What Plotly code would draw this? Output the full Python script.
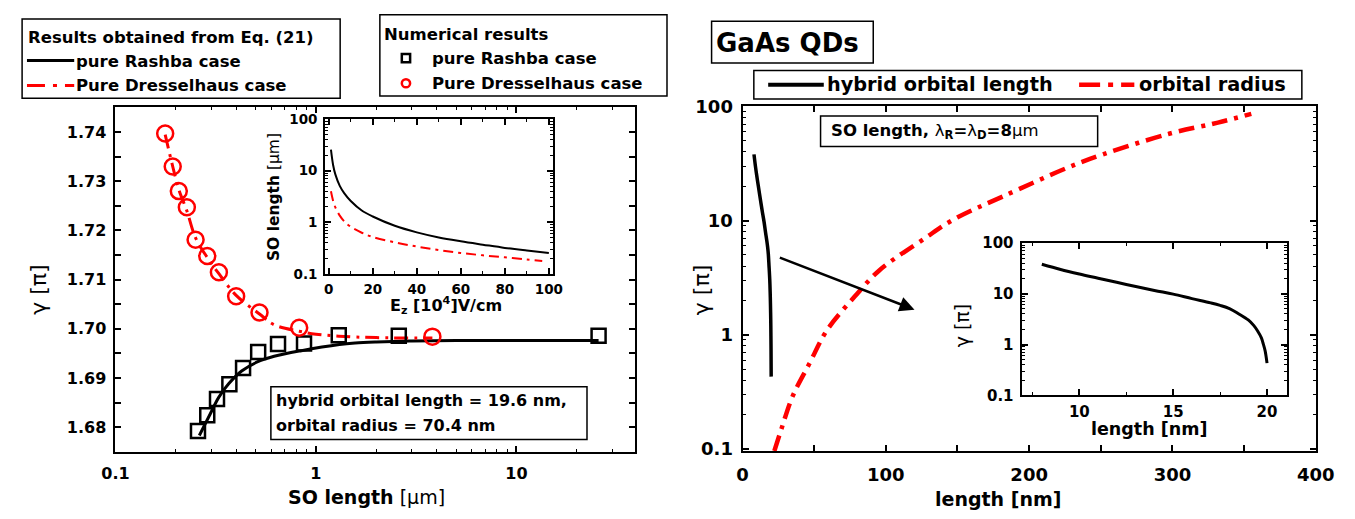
import numpy as np
import plotly.graph_objects as go

W, H = 1355, 519

# ---------------- data ----------------
# left main panel: gamma vs SO length
rashba_eq_x = [0.262, 0.293, 0.328, 0.367, 0.426, 0.513, 0.619, 0.834, 1.31, 1.57, 2.0, 3.0, 5.0, 10.0, 25.7]
rashba_eq_y = [1.6783, 1.6822, 1.6861, 1.6888, 1.6914, 1.6933, 1.6944, 1.6955, 1.6968, 1.6971, 1.6973, 1.6975, 1.6976, 1.6976, 1.6976]
dress_eq_x = [0.177, 0.193, 0.207, 0.227, 0.251, 0.287, 0.328, 0.40, 0.523, 0.62, 0.825, 1.0, 1.3, 2.0, 3.81]
dress_eq_y = [1.7395, 1.7330, 1.7283, 1.7240, 1.7185, 1.7145, 1.7112, 1.7068, 1.7030, 1.7008, 1.6995, 1.6989, 1.6985, 1.6982, 1.6981]
rashba_num_x = [0.258, 0.287, 0.321, 0.370, 0.433, 0.515, 0.647, 0.872, 1.30, 2.59, 25.7]
rashba_num_y = [1.6792, 1.6824, 1.6857, 1.6887, 1.6920, 1.6953, 1.6969, 1.6970, 1.6987, 1.6986, 1.6986]
dress_num_x = [0.177, 0.193, 0.207, 0.227, 0.251, 0.287, 0.328, 0.400, 0.523, 0.825, 3.81]
dress_num_y = [1.7397, 1.7330, 1.7280, 1.7247, 1.7181, 1.7148, 1.7115, 1.7066, 1.7033, 1.7002, 1.6984]

# left inset: SO length vs Ez
ez_rashba = [1, 2, 3, 5, 7, 10, 15, 20, 30, 40, 50, 60, 70, 80, 90, 100]
so_rashba = [25.6, 12.8, 8.5, 5.1, 3.7, 2.6, 1.7, 1.3, 0.86, 0.64, 0.51, 0.43, 0.37, 0.32, 0.285, 0.256]
ez_dress = [1, 2, 3, 5, 7, 10, 15, 20, 30, 40, 50, 60, 70, 80, 90, 97]
so_dress = [4.0, 2.6, 1.95, 1.35, 1.05, 0.82, 0.63, 0.52, 0.41, 0.34, 0.29, 0.255, 0.23, 0.21, 0.19, 0.178]

# right panel: gamma vs length
hybrid_x = [8, 9, 10, 11, 12.5, 14, 15, 16, 17, 17.5, 18, 18.5, 19, 19.3, 19.5, 19.7, 19.8, 19.9, 20.0]
hybrid_y = [38, 30, 24.4, 20.2, 15.2, 11.6, 9.8, 8.0, 6.6, 5.9, 5.1, 4.0, 3.05, 2.35, 1.84, 1.35, 1.03, 0.75, 0.43]
radius_x = [22.2, 27.3, 35, 46.6, 59, 78.4, 95.4, 127.2, 147.7, 181.8, 227.2, 251, 297.6, 331.7, 355]
radius_y = [0.096, 0.152, 0.29, 0.557, 1.1, 2.17, 3.66, 7.0, 10.3, 16.3, 29.2, 37.8, 57.6, 72.2, 86]

# arrow (data coordinates of the right panel)
arrow_from = (25, 4.8)
arrow_to = (120, 1.66)

# ---------------- helpers ----------------
def fx(p):
    return p / W

def fy(p):
    return 1 - p / H

FONT = "DejaVu Sans"
RED = "#ff0000"

fig = go.Figure()

# left main
fig.add_trace(go.Scatter(x=rashba_eq_x, y=rashba_eq_y, mode="lines", line=dict(color="black", width=3, shape="spline"),
                         xaxis="x", yaxis="y", showlegend=False))
fig.add_trace(go.Scatter(x=dress_eq_x, y=dress_eq_y, mode="lines",
                         line=dict(color=RED, width=3, dash="14px,6px,3px,6px", shape="spline"),
                         xaxis="x", yaxis="y", showlegend=False))
fig.add_trace(go.Scatter(x=rashba_num_x, y=rashba_num_y, mode="markers",
                         marker=dict(symbol="square-open", size=14, color="black", line=dict(width=2.5, color="black")),
                         xaxis="x", yaxis="y", showlegend=False))
fig.add_trace(go.Scatter(x=dress_num_x, y=dress_num_y, mode="markers",
                         marker=dict(symbol="circle-open", size=16, color=RED, line=dict(width=2.5, color=RED)),
                         xaxis="x", yaxis="y", showlegend=False))
# left inset
fig.add_trace(go.Scatter(x=ez_rashba, y=so_rashba, mode="lines", line=dict(color="black", width=2, shape="spline"),
                         xaxis="x2", yaxis="y2", showlegend=False))
fig.add_trace(go.Scatter(x=ez_dress, y=so_dress, mode="lines",
                         line=dict(color=RED, width=2, dash="10px,5px,3px,5px", shape="spline"),
                         xaxis="x2", yaxis="y2", showlegend=False))
# right main
fig.add_trace(go.Scatter(x=hybrid_x, y=hybrid_y, mode="lines", line=dict(color="black", width=3.5, shape="spline"),
                         xaxis="x3", yaxis="y3", showlegend=False))
fig.add_trace(go.Scatter(x=radius_x, y=radius_y, mode="lines",
                         line=dict(color=RED, width=4.5, dash="16px,7px,4px,7px", shape="spline"),
                         xaxis="x3", yaxis="y3", showlegend=False))
# right inset
fig.add_trace(go.Scatter(x=hybrid_x, y=hybrid_y, mode="lines", line=dict(color="black", width=3, shape="spline"),
                         xaxis="x4", yaxis="y4", showlegend=False))


def axis_common(size):
    return dict(showline=True, linewidth=2, linecolor="black", mirror="allticks", ticks="inside",
                ticklen=6, tickwidth=1.5, tickcolor="black", showgrid=False, zeroline=False,
                tickfont=dict(family=FONT, size=size, color="black", weight="bold"))

minor_log = dict(ticks="inside", ticklen=3, tickwidth=1, tickcolor="black", dtick="D1", showgrid=False)

fig.update_layout(
    width=W, height=H, margin=dict(l=0, r=0, t=0, b=0),
    paper_bgcolor="white", plot_bgcolor="rgba(0,0,0,0)", showlegend=False,
    xaxis=dict(domain=[fx(104), fx(637)], anchor="y", type="log", range=[-1, 1.594], dtick=1,
               minor=minor_log, ticklabelstandoff=6, **axis_common(16)),
    yaxis=dict(domain=[fy(459), fy(100.7)], anchor="x", range=[1.6749, 1.7451], dtick=0.01, tick0=1.68,
               tickformat=".2f", minor=dict(ticks="inside", ticklen=6, tickwidth=1.5, tickcolor="black", dtick=0.005, showgrid=False),
               ticklabelstandoff=4, **axis_common(16)),
    xaxis2=dict(domain=[fx(319), fx(552.7)], anchor="y2", range=[-1.6, 102], dtick=20, tick0=0,
                minor=dict(ticks="inside", ticklen=3, tickwidth=1, tickcolor="black", dtick=10, showgrid=False),
                ticklabelstandoff=2, **axis_common(13.5)),
    yaxis2=dict(domain=[fy(274), fy(113.3)], anchor="x2", type="log", range=[-1, 2], dtick=1,
                minor=minor_log, ticklabelstandoff=3, **axis_common(13.5)),
    xaxis3=dict(domain=[fx(746.7), fx(1334.3)], anchor="y3", range=[0, 400], dtick=100, tick0=0,
                minor=dict(ticks="inside", ticklen=6, tickwidth=1.5, tickcolor="black", dtick=50, showgrid=False),
                ticklabelstandoff=6, **axis_common(18)),
    yaxis3=dict(domain=[fy(458), fy(99.5)], anchor="x3", type="log", range=[-1.02, 2.005], dtick=1,
                minor=minor_log, ticklabelstandoff=4, **axis_common(18)),
    xaxis4=dict(domain=[fx(1032.7), fx(1304.3)], anchor="y4", range=[6.92, 21.04], dtick=5, tick0=0,
                minor=dict(ticks="inside", ticklen=3, tickwidth=1, tickcolor="black", dtick=2.5, showgrid=False),
                ticklabelstandoff=2, **axis_common(15)),
    yaxis4=dict(domain=[fy(400), fy(241.7)], anchor="x4", type="log", range=[-1, 2], dtick=1,
                minor=minor_log, ticklabelstandoff=3, **axis_common(15)),
)

shapes = []
annots = []

def box(x0, y0, x1, y1, lw=1.5):
    shapes.append(dict(type="rect", xref="paper", yref="paper", x0=fx(x0), x1=fx(x1), y0=fy(y1), y1=fy(y0),
                       line=dict(color="black", width=lw), fillcolor="white", layer="above"))

def hline(x0, x1, y, color, width, dash="solid"):
    shapes.append(dict(type="line", xref="paper", yref="paper", x0=fx(x0), x1=fx(x1), y0=fy(y), y1=fy(y),
                       line=dict(color=color, width=width, dash=dash), layer="above"))

def text(x, y, s, size, xanchor="left", angle=0):
    annots.append(dict(xref="paper", yref="paper", x=fx(x), y=fy(y), text=s, showarrow=False,
                       xanchor=xanchor, yanchor="middle", textangle=angle,
                       font=dict(family=FONT, size=size, color="black"), borderpad=0))

# left legend 1
box(8.3, 9.3, 334.3, 91.7)
text(13, 29, "<b>Results obtained from Eq. (21)</b>", 16.5)
hline(13.3, 61.7, 52.3, "black", 3)
text(63, 53, "<b>pure Rashba case</b>", 16.5)
hline(13.3, 61.7, 78.3, RED, 3, "18px,8px,4px,8px")
text(63, 78, "<b>Pure Dresselhaus case</b>", 16.5)

# left legend 2
box(375, 5, 669.3, 89.3)
text(378, 25, "<b>Numerical results</b>", 16.5)
shapes.append(dict(type="rect", xref="paper", yref="paper", x0=fx(397.5), x1=fx(406), y0=fy(54.3), y1=fy(45.8),
                   line=dict(color="black", width=2.5), layer="above"))
text(427, 50, "<b>pure Rashba case</b>", 16.5)
shapes.append(dict(type="circle", xref="paper", yref="paper", x0=fx(397.5), x1=fx(406), y0=fy(80.3), y1=fy(71.8),
                   line=dict(color=RED, width=2.5), layer="above"))
text(427, 76, "<b>Pure Dresselhaus case</b>", 16.5)

# left info box
box(263.3, 391, 587.3, 445.7)
text(268, 405, "<b>hybrid orbital length = 19.6 nm,</b>", 16)
text(268, 431.5, "<b>orbital radius = 70.4 nm</b>", 16)

# left axis titles
text(25, 290, "γ [π]", 22, xanchor="center", angle=-90)
text(361, 505, "<b>SO length</b> [μm]", 19, xanchor="center")
text(266.7, 194, "<b>SO length</b> [μm]", 15.5, xanchor="center", angle=-90)
text(443, 307, "<b>E<sub>z</sub> [10<sup>4</sup>]V/cm</b>", 16, xanchor="center")

# right: GaAs box
box(715, 11.7, 880.7, 55)
text(718, 34, "<b>GaAs QDs</b>", 26)

# right legend
box(758.3, 62.7, 1320, 92.3)
hline(773, 830, 77.7, "black", 4)
text(832, 77.5, "<b>hybrid orbital length</b>", 19.3)
hline(1091.7, 1148.3, 77.7, RED, 4.5, "21px,8px,5px,8px")
text(1152, 77.5, "<b>orbital radius</b>", 19.3)

# SO length box
box(826.7, 110, 1110.7, 141.7)
text(836, 126, "<b>SO length, </b>λ<sub><b>R</b></sub><b>=</b>λ<sub><b>D</b></sub><b>=8</b>μm", 16.5)

# right axis titles
text(704, 291, "γ [π]", 22, xanchor="center", angle=-90)
text(1009, 508, "<b>length [nm]</b>", 19, xanchor="center")
text(972, 327, "γ [π]", 19, xanchor="center", angle=-90)
text(1163, 435, "<b>length [nm]</b>", 17.5, xanchor="center")

# arrow
annots.append(dict(xref="x3", yref="y3", axref="x3", ayref="y3",
                   x=arrow_to[0], y=np.log10(arrow_to[1]), ax=arrow_from[0], ay=np.log10(arrow_from[1]),
                   text="", showarrow=True, arrowhead=2, arrowsize=1.2, arrowwidth=2.5, arrowcolor="black"))

fig.update_layout(shapes=shapes, annotations=annots)

fig.write_html("out.html", config={"displayModeBar": False},
               post_script="document.body.style.margin='0';document.body.style.overflow='hidden';")
